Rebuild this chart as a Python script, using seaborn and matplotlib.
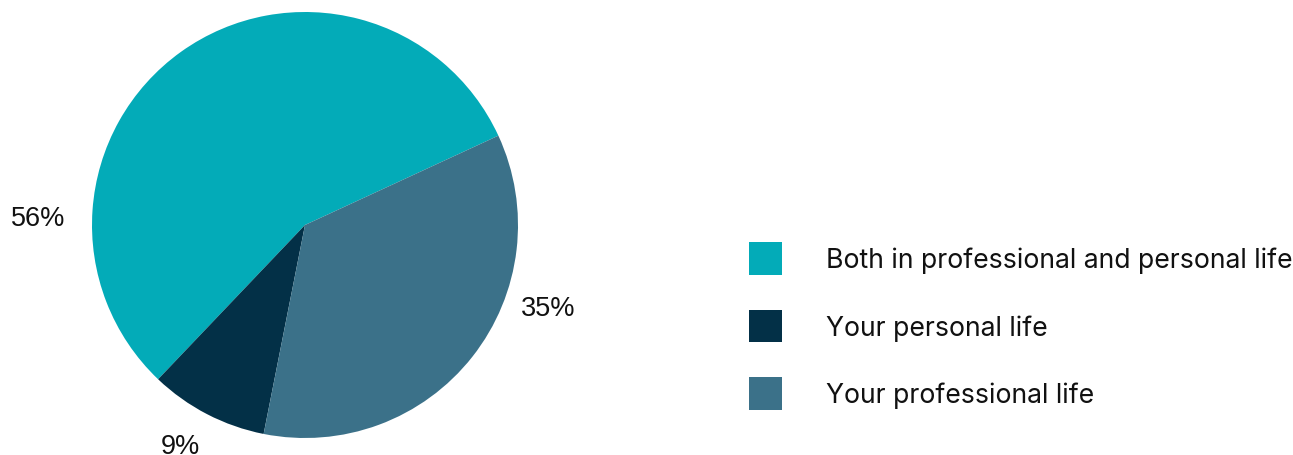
import matplotlib
matplotlib.use("Agg")
import matplotlib.pyplot as plt
import seaborn as sns
from matplotlib.patches import Patch

categories = ["Both in professional and personal life", "Your personal life", "Your professional life"]
values = [56, 9, 35]
pct_labels = ["56%", "9%", "35%"]
colors = ["#03abb8", "#033047", "#3b7189"]

sns.set_theme(style="white")
plt.rcParams['font.family'] = ['Inter', 'DejaVu Sans']

W, H, DPI = 1293, 456, 100
fig = plt.figure(figsize=(W / DPI, H / DPI), dpi=DPI)
ax = fig.add_axes([0, 0, 1, 1])

cx, cy, R = 305, 226, 213  # pixel center / radius
ax.pie(values, colors=sns.color_palette(colors), startangle=24.8, counterclock=True,
       radius=1, center=(0, 0), wedgeprops=dict(linewidth=0))
ax.set_xlim(-cx / R, (W - cx) / R)
ax.set_ylim(-(H - cy) / R, cy / R)
ax.set_aspect('equal')
ax.axis('off')

# label positions (pixel space -> data)
label_px = [(38, 219), (180, 447), (548, 309)]
for lab, (px, py) in zip(pct_labels, label_px):
    ax.text((px - cx) / R, (cy - py) / R, lab, ha='center', va='center',
            fontsize=19.5, family=['Liberation Sans', 'DejaVu Sans'], color='#111111')

handles = [Patch(facecolor=c, edgecolor='none') for c in colors]
leg = fig.legend(handles, categories, loc='center left',
                 bbox_to_anchor=(749 / W, 1 - 327 / H), bbox_transform=fig.transFigure,
                 frameon=False, fontsize=19.2, handlelength=1.24, handleheight=1.52,
                 handletextpad=1.63, labelspacing=1.30, borderpad=0, borderaxespad=0)
for t in leg.get_texts():
    t.set_color('#111111')

fig.savefig("out.png", dpi=DPI)
